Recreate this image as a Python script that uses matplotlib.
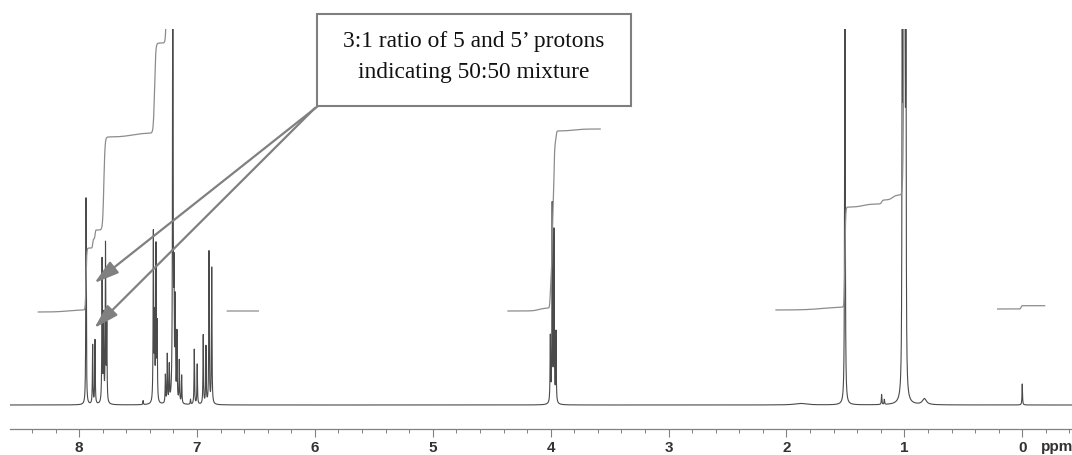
import numpy as np
import matplotlib
matplotlib.use("Agg")
import matplotlib.pyplot as plt
from matplotlib.patches import Rectangle
from matplotlib.ticker import MultipleLocator, FixedLocator

# ---- 1H NMR line list (chemical shift in ppm, peak intensity) ----
aromatic_ppm = [7.941, 7.885, 7.865, 7.805, 7.792, 7.776, 7.765, 7.457,
                7.370, 7.360, 7.348, 7.338, 7.268, 7.252, 7.235,
                7.205, 7.195, 7.185, 7.170, 7.150, 7.130, 7.055,
                7.023, 6.998, 6.947, 6.924, 6.898, 6.875]
aromatic_int = [207, 59, 64, 143, 85, 157, 75, 4,
                168, 80, 153, 75, 28, 48, 36,
                600, 110, 95, 68, 42, 28, 5,
                55, 40, 69, 57, 152, 136]

quartet_ppm = [4.003, 3.987, 3.972, 3.955]
quartet_int = [65, 197, 170, 70]

aliphatic_ppm = [1.504, 1.193, 1.170, 1.018, 1.010, 1.003, 0.995, 0.987, 0.000]
aliphatic_int = [600, 10, 5, 420, 500, 700, 500, 420, 21]

broad_ppm = [0.830, 1.880]
broad_int = [6, 1.5]
broad_hwhm = [0.020, 0.060]

line_hwhm = 0.0025

# ---- integral traces: start/end shift, starting level, steps (ppm, rise, width) ----
intA_range = (8.346, 7.22)
intA_level = 93
intA_step_ppm = [8.10, 7.941, 7.885, 7.865, 7.790, 7.55, 7.360, 7.255]
intA_step_h = [2, 62, 9, 9, 93, 4, 90, 200]
intA_step_w = [0.10, 0.006, 0.004, 0.004, 0.010, 0.10, 0.010, 0.008]

intB_range = (6.743, 6.480)
intB_level = 94

intC_range = (4.362, 3.580)
intC_level = 94
intC_step_ppm = [4.10, 4.003, 3.987, 3.972, 3.955, 3.80]
intC_step_h = [3, 30, 70, 65, 12, 2]
intC_step_w = [0.05, 0.006, 0.006, 0.006, 0.006, 0.08]

intD_range = (2.089, 0.950)
intD_level = 95
intD_step_ppm = [1.70, 1.504, 1.35, 1.193, 1.10, 1.003]
intD_step_h = [3, 100, 3, 4, 5, 400]
intD_step_w = [0.15, 0.006, 0.06, 0.01, 0.03, 0.008]

intE_range = (0.209, -0.190)
intE_level = 96
intE_step_ppm = [0.010]
intE_step_h = [3.3]
intE_step_w = [0.006]

major_ticks = [8, 7, 6, 5, 4, 3, 2, 1, 0]
box_text = "3:1 ratio of 5 and 5\u2019 protons\nindicating 50:50 mixture"
arrow_targets_ppm = [7.870, 7.870]
arrow_targets_int = [122, 77]

# ---- build traces ----
ppm = np.linspace(8.60, -0.43, 60000)


def lorentz(x, c, h, w):
    return h * w ** 2 / (w ** 2 + (x - c) ** 2)


spec = np.zeros_like(ppm)
for c, h in zip(aromatic_ppm + quartet_ppm + aliphatic_ppm,
                aromatic_int + quartet_int + aliphatic_int):
    spec += lorentz(ppm, c, h, line_hwhm)
for c, h, w in zip(broad_ppm, broad_int, broad_hwhm):
    spec += lorentz(ppm, c, h, w)


def integral(rng, level, centers=(), rises=(), widths=()):
    x = np.linspace(rng[0], rng[1], 4000)
    y = np.full_like(x, float(level))
    for c, h, w in zip(centers, rises, widths):
        y += h * 0.5 * (1.0 + np.tanh((c - x) / w))
    return x, y


fig = plt.figure(figsize=(10.72, 4.55), dpi=100)
ax = fig.add_axes([10 / 1072, 26 / 455, 1062 / 1072, 400 / 455])

spec_color = "#4a4a4a"
int_color = "#8c8c8c"
ax.plot(ppm, spec, color=spec_color, lw=0.8)

for args in [
    (intA_range, intA_level, intA_step_ppm, intA_step_h, intA_step_w),
    (intB_range, intB_level),
    (intC_range, intC_level, intC_step_ppm, intC_step_h, intC_step_w),
    (intD_range, intD_level, intD_step_ppm, intD_step_h, intD_step_w),
    (intE_range, intE_level, intE_step_ppm, intE_step_h, intE_step_w),
]:
    xi, yi = integral(*args)
    ax.plot(xi, yi, color=int_color, lw=0.9)

ax.set_xlim(8.586, -0.422)
ax.set_ylim(-24, 376)

# axis styling: only a bottom ppm scale
for s in ("top", "left", "right"):
    ax.spines[s].set_visible(False)
ax.spines["bottom"].set_color("#808080")
ax.spines["bottom"].set_linewidth(0.9)
ax.set_yticks([])
ax.xaxis.set_major_locator(FixedLocator(major_ticks))
ax.xaxis.set_minor_locator(MultipleLocator(0.2))
ax.tick_params(axis="x", which="major", length=6, width=0.8, color="#808080",
               pad=3, labelsize=11, labelcolor="#333333")
ax.tick_params(axis="x", which="minor", length=3, width=0.7, color="#808080")
ax.set_xticklabels([str(t) for t in major_ticks], family="Liberation Sans",
                   fontweight="bold")
fig.text(1041 / 1072, 1 - 447.5 / 455, "ppm", ha="left", va="center",
         fontsize=11, color="#333333", family="Liberation Sans",
         fontweight="bold")

# annotation box
fig.add_artist(Rectangle((317 / 1072, 1 - 106 / 455), 314 / 1072, 92 / 455,
                         transform=fig.transFigure, facecolor="white",
                         edgecolor="#7f7f7f", lw=1.5, zorder=5))
fig.text(474 / 1072, 1 - 57 / 455, box_text, ha="center", va="center",
         fontsize=16.8, family="Liberation Serif", color="#111111",
         linespacing=1.6, zorder=6)

# arrows from the box corner to the two signals
starts_px = [(318, 106), (315, 108)]
for (px, py), tx, ty in zip(starts_px, arrow_targets_ppm, arrow_targets_int):
    sx, sy = ax.transData.inverted().transform(
        fig.transFigure.transform((px / 1072, 1 - py / 455)))
    ax.annotate("", xy=(tx, ty), xytext=(sx, sy), xycoords="data",
                textcoords="data", annotation_clip=False,
                arrowprops=dict(arrowstyle="-|>,head_length=0.75,head_width=0.22",
                                mutation_scale=20, color="#808080", lw=1.6,
                                shrinkA=0, shrinkB=0))

fig.savefig("out.png", dpi=100)
